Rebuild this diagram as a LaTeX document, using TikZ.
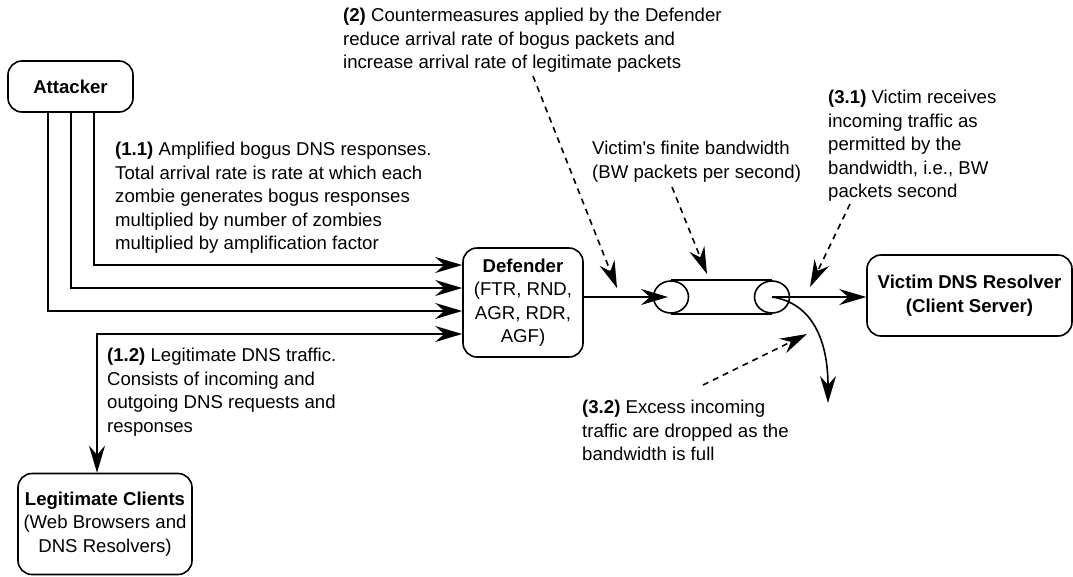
\documentclass[tikz,border=0pt]{standalone}
\usepackage{fontspec}
\setmainfont{Liberation Sans}[Ligatures=TeXOff]
\usetikzlibrary{arrows.meta,calc,shapes.geometric}
\begin{document}
\begin{tikzpicture}[x=1pt,y=-1pt,
  every node/.style={font=\fontsize{18.6}{23.5}\selectfont},
  box/.style={draw, line width=1.6pt, rounded corners=14pt, align=center, inner sep=0pt},
  lbl/.style={anchor=north west, align=left, inner sep=0pt},
  tip/.tip={Stealth[length=27pt,width=16pt,inset=9pt]},
  arr/.style={line width=1.6pt, -tip},
  arrboth/.style={line width=1.6pt, tip-tip},
  darr/.style={arr, dash pattern=on 6pt off 5pt},
  pipeend/.style={draw, ellipse, line width=1.6pt, minimum width=35pt, minimum height=32pt, inner sep=0pt},
  pipe/.style={line width=1.6pt}
]
\useasboundingbox (0,0) rectangle (1073,576);

% boxes
\node[box, minimum width=125pt, minimum height=51pt] (attacker) at (70.5,86.5) {\textbf{Attacker}};
\node[box, minimum width=120pt, minimum height=109pt] (defender) at (523,302.5) {\textbf{Defender}\\(FTR, RND,\\AGR, RDR,\\AGF)};
\node[box, minimum width=205pt, minimum height=81pt] (victim) at (969.5,295.5) {\textbf{Victim DNS Resolver}\\\textbf{(Client Server)}};
\node[box, minimum width=174pt, minimum height=101pt] (legit) at (105,524) {\textbf{Legitimate Clients}\\(Web Browsers and\\DNS Resolvers)};

% pipe
\node[pipeend] (pl) at (671,297) {};
\node[pipeend] (pr) at (772,297) {};
\draw[pipe] (pl.north) -- (pr.north);
\draw[pipe] (pl.south) -- (pr.south);

% attacker flows
\draw[arr] ([xshift=23.5pt]attacker.south) |- ($(defender.west)+(0,-37.5)$);
\draw[arr] ([xshift=0.5pt]attacker.south) |- ($(defender.west)+(0,-14.5)$);
\draw[arr] ([xshift=-22.5pt]attacker.south) |- ($(defender.west)+(0,8.5)$);
% legitimate flow
\draw[arrboth] ($(defender.west)+(0,31.5)$) -| ([xshift=-8pt]legit.north);

% defender -> pipe -> victim
\draw[arr] (defender.east |- pl.center) -- ([xshift=-3pt]pl.center);
\draw[arr] (pr.center) -- (victim.west |- pr.center);
\coordinate (drop) at (828,403);
\draw[arr] (pr.center) .. controls (812,303) and (828,340) .. (drop);

% labels
\node[lbl] (t11) at (115,142) {\textbf{(1.1)} Amplified bogus DNS responses.\\Total arrival rate is rate at which each\\zombie generates bogus responses\\multiplied by number of zombies\\multiplied by amplification factor};
\node[lbl] (t12) at (107,348) {\textbf{(1.2)} Legitimate DNS traffic.\\Consists of incoming and\\outgoing DNS requests and\\responses};
\node[lbl] (t2) at (343,8) {\textbf{(2)} Countermeasures applied by the Defender\\reduce arrival rate of bogus packets and\\increase arrival rate of legitimate packets};
\node[lbl] (tbw) at (592,141) {Victim's finite bandwidth\\(BW packets per second)};
\node[lbl] (t31) at (828,90) {\textbf{(3.1)} Victim receives\\incoming traffic as\\permitted by the\\bandwidth, i.e., BW\\packets second};
\node[lbl] (t32) at (582,400) {\textbf{(3.2)} Excess incoming\\traffic are dropped as the\\bandwidth is full};

% dashed pointers
\coordinate (s2) at (533,76);
\coordinate (e2) at (617,288);
\coordinate (sbw) at (672,187);
\coordinate (ebw) at (707,274);
\coordinate (s31) at (850,204);
\coordinate (e31) at (810,287);
\coordinate (s32) at (703,385);
\coordinate (e32) at (807,334);
\draw[darr] (s2) -- (e2);
\draw[darr] (sbw) -- (ebw);
\draw[darr] (s31) -- (e31);
\draw[darr] (s32) -- (e32);
\end{tikzpicture}
\end{document}
